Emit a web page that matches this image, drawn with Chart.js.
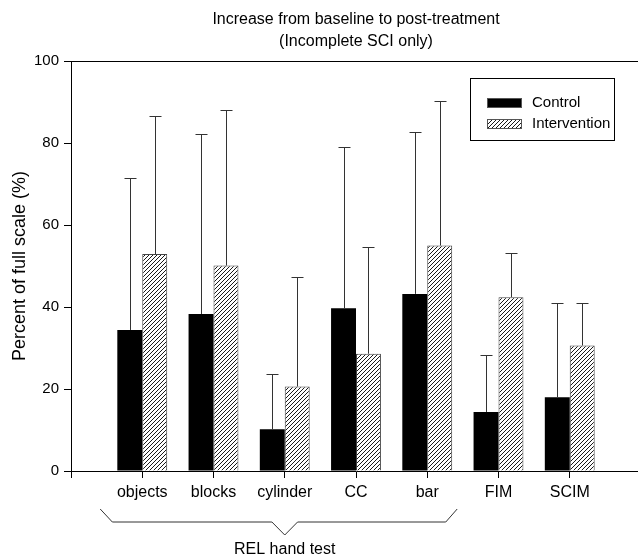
<!DOCTYPE html>
<html>
<head>
<meta charset="utf-8">
<script src="https://cdn.jsdelivr.net/npm/chart.js@4.4.0/dist/chart.umd.min.js"></script>
<style>
  html, body { margin: 0; padding: 0; background: #fff; overflow: hidden; }
  #wrap { width: 646px; height: 556px; }
</style>
</head>
<body>
<div id="wrap"><canvas id="myChart" width="646" height="556"></canvas></div>
<script>
// values (percent of full scale)
var categories = ['objects', 'blocks', 'cylinder', 'CC', 'bar', 'FIM', 'SCIM'];
var controlMeans = [34.4, 38.3, 10.2, 39.7, 43.2, 14.4, 18.0];
var controlSD = [37.1, 44.0, 13.4, 39.4, 39.6, 13.9, 22.9];
var interventionMeans = [52.9, 50.1, 20.6, 28.6, 55.0, 42.4, 30.6];
var interventionSD = [33.6, 38.0, 26.8, 26.0, 35.3, 10.7, 10.3];
var yTicks = [0, 20, 40, 60, 80, 100];
var groupLabel = 'REL hand test';

Chart.defaults.font.family = '"Liberation Sans", Arial, sans-serif';
Chart.defaults.color = '#000';

// empty slot on each side so the axis runs one category past the ends
var axisLabels = [''].concat(categories, ['']);
function pad(arr) { return [null].concat(arr, [null]); }

function hatch() {
  var c = document.createElement('canvas');
  c.width = 4; c.height = 4;
  var g = c.getContext('2d');
  g.fillStyle = '#fff';
  g.fillRect(0, 0, 4, 4);
  g.strokeStyle = '#000';
  g.lineWidth = 0.9;
  g.beginPath();
  g.moveTo(-1, 5); g.lineTo(5, -1);
  g.moveTo(-1, 1); g.lineTo(1, -1);
  g.moveTo(3, 5); g.lineTo(5, 3);
  g.stroke();
  return g.createPattern(c, 'repeat');
}
var hatchFill = hatch();

var errorBars = {
  id: 'errorBars',
  afterDatasetsDraw: function (chart) {
    var ctx = chart.ctx, ys = chart.scales.y;
    var sds = [controlSD, interventionSD];
    ctx.save();
    ctx.strokeStyle = '#333';
    ctx.lineWidth = 1;
    chart.data.datasets.forEach(function (ds, i) {
      var meta = chart.getDatasetMeta(i);
      meta.data.forEach(function (bar, j) {
        var v = ds.data[j];
        if (v === null) return;
        var x = Math.round(bar.x) + 0.5;
        var top = Math.round(ys.getPixelForValue(v + sds[i][j - 1])) + 0.5;
        ctx.beginPath();
        ctx.moveTo(x, bar.y);
        ctx.lineTo(x, top);
        ctx.moveTo(x - 6, top);
        ctx.lineTo(x + 6, top);
        ctx.stroke();
      });
    });
    ctx.restore();
  }
};

var frameAndNotes = {
  id: 'frameAndNotes',
  afterDraw: function (chart) {
    var ctx = chart.ctx, a = chart.chartArea, xs = chart.scales.x;
    ctx.save();
    // top and right of the frame
    ctx.strokeStyle = '#000';
    ctx.lineWidth = 1;
    ctx.beginPath();
    ctx.moveTo(a.left, Math.round(a.top) + 0.5);
    ctx.lineTo(a.right, Math.round(a.top) + 0.5);
    ctx.lineTo(a.right, a.bottom);
    ctx.stroke();

    // legend box
    var lx = a.right - 171, ly = a.top + 17;
    ctx.strokeRect(lx + 0.5, ly + 0.5, 144, 62);
    var names = chart.data.datasets.map(function (d) { return d.label; });
    var fills = chart.data.datasets.map(function (d) { return d.backgroundColor; });
    ctx.font = '15px "Liberation Sans", Arial, sans-serif';
    ctx.textBaseline = 'middle';
    ctx.fillStyle = '#000';
    names.forEach(function (n, i) {
      var cy = ly + 25 + i * 21;
      ctx.fillStyle = fills[i];
      ctx.fillRect(lx + 17, cy - 5, 35, 10);
      ctx.strokeStyle = '#555';
      ctx.strokeRect(lx + 17.5, cy - 4.5, 34, 9);
      ctx.fillStyle = '#000';
      ctx.fillText(n, lx + 62, cy);
    });

    // brace under the hand-test group
    var b = a.bottom;
    ctx.strokeStyle = '#333';
    ctx.beginPath();
    ctx.moveTo(xs.getPixelForValue(0.41), b + 38);
    ctx.lineTo(xs.getPixelForValue(0.58), b + 51);
    ctx.lineTo(xs.getPixelForValue(2.82), b + 51);
    ctx.lineTo(xs.getPixelForValue(3.0), b + 64);
    ctx.lineTo(xs.getPixelForValue(3.18), b + 51);
    ctx.lineTo(xs.getPixelForValue(5.26), b + 51);
    ctx.lineTo(xs.getPixelForValue(5.42), b + 38);
    ctx.stroke();
    ctx.font = '16px "Liberation Sans", Arial, sans-serif';
    ctx.textAlign = 'center';
    ctx.textBaseline = 'alphabetic';
    ctx.fillStyle = '#000';
    ctx.fillText(groupLabel, xs.getPixelForValue(3.0), b + 83);
    ctx.restore();
  }
};

new Chart(document.getElementById('myChart'), {
  type: 'bar',
  data: {
    labels: axisLabels,
    datasets: [{
      label: 'Control',
      data: pad(controlMeans),
      backgroundColor: '#000',
      borderColor: '#000',
      borderWidth: 0,
      categoryPercentage: 0.7,
      barPercentage: 1
    }, {
      label: 'Intervention',
      data: pad(interventionMeans),
      backgroundColor: hatchFill,
      borderColor: '#444',
      borderWidth: 1,
      categoryPercentage: 0.7,
      barPercentage: 1
    }]
  },
  options: {
    responsive: false,
    animation: false,
    devicePixelRatio: 1,
    layout: { padding: { left: 0, right: 4, top: 0, bottom: 0 } },
    plugins: {
      legend: { display: false },
      tooltip: { enabled: false },
      title: {
        display: true,
        fullSize: false,
        text: ['Increase from baseline to post-treatment', '(Incomplete SCI only)'],
        font: { size: 16, weight: 'normal', lineHeight: 1.375 },
        color: '#000',
        padding: { top: 9, bottom: 8 }
      }
    },
    scales: {
      x: {
        offset: false,
        grid: { offset: false, drawOnChartArea: false, drawTicks: true, tickLength: 7, color: '#000' },
        border: { color: '#000', width: 1 },
        ticks: { font: { size: 16 }, padding: 5, maxRotation: 0, autoSkip: false, color: '#000' },
        afterFit: function (s) { s.height = 85; }
      },
      y: {
        min: 0,
        max: 100,
        afterBuildTicks: function (s) { s.ticks = yTicks.map(function (v) { return { value: v }; }); },
        grid: { drawOnChartArea: false, tickLength: 7, color: '#000' },
        border: { color: '#000', width: 1 },
        ticks: { font: { size: 15 }, padding: 5, color: '#000' },
        title: {
          display: true,
          text: 'Percent of full scale (%)',
          font: { size: 18 },
          color: '#000',
          padding: { top: 9, bottom: 0 }
        },
        afterFit: function (s) { s.width = 71; }
      }
    }
  },
  plugins: [errorBars, frameAndNotes]
});
</script>
</body>
</html>
